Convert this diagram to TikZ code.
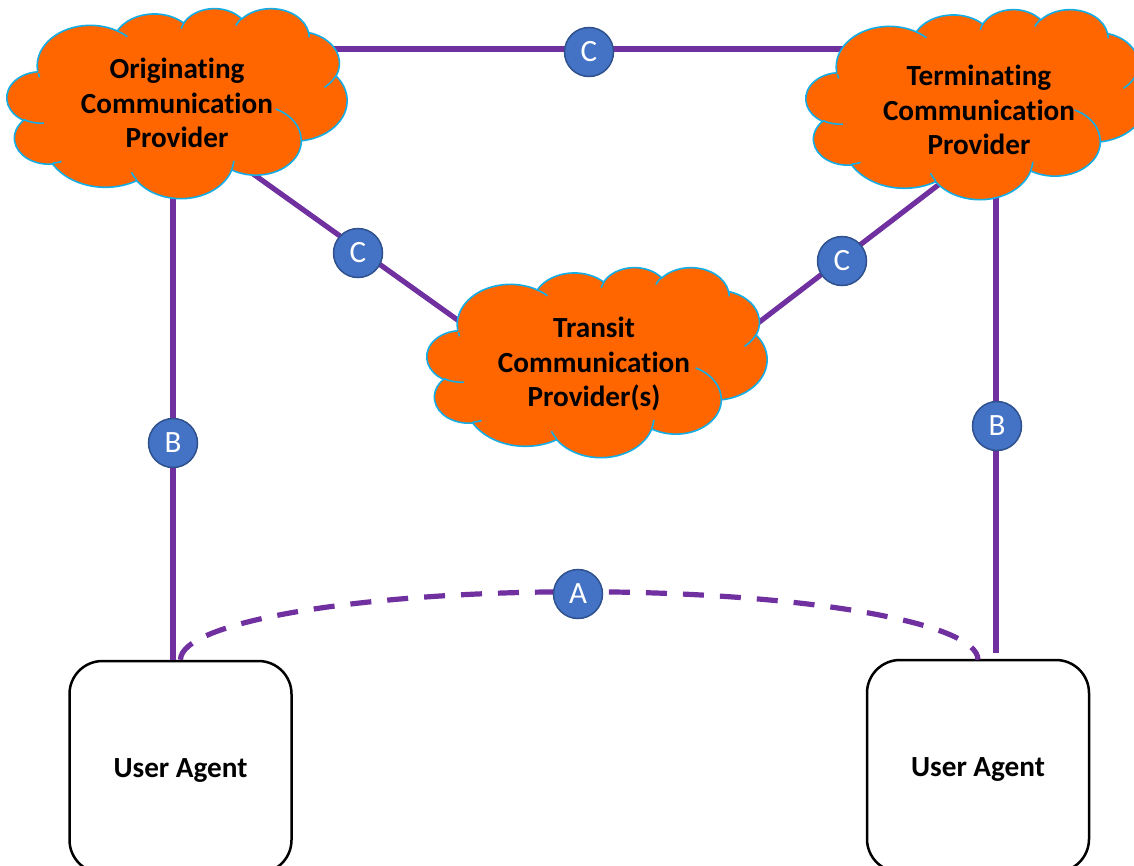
\documentclass[tikz,border=0pt]{standalone}
\usepackage{fontspec}
\setmainfont{Carlito}[Ligatures=NoCommon]

\definecolor{linkpurple}{HTML}{7030A0}
\definecolor{cloudfill}{HTML}{FF6600}
\definecolor{cloudline}{HTML}{14ADE6}
\definecolor{badgefill}{HTML}{4472C4}
\definecolor{badgeline}{HTML}{2F528F}

% Cloud outline on a 432 x 432 grid; arc angles are visual angles,
% converted here to the parametric angles TikZ expects.
\makeatletter
\def\cloud@acc{}
\def\cloud@arc#1#2#3#4{%
  \pgfmathsetmacro\cloud@ta{atan2(#1*sin(#3),#2*cos(#3))}%
  \pgfmathsetmacro\cloud@tb{atan2(#1*sin(#3+#4),#2*cos(#3+#4))}%
  \pgfmathsetmacro\cloud@td{mod(\cloud@tb-\cloud@ta+720,360)}%
  \xdef\cloud@acc{\cloud@acc arc[x radius=#1,y radius=#2,start angle=\cloud@ta,delta angle=\cloud@td]}%
}
\def\cloud@move#1#2{\xdef\cloud@acc{\cloud@acc (#1,#2)}}
% outer puffs
\cloud@arc{67.53}{91.90}{-190.48748}{123.78053}
\cloud@arc{53.33}{72.67}{-144.10238}{89.94523}
\cloud@arc{43.65}{59.45}{-145.80792}{99.72302}
\cloud@arc{48.57}{65.95}{-130.98607}{117.24173}
\cloud@arc{53.33}{72.73}{-78.70888}{109.02692}
\cloud@arc{67.75}{92.20}{-46.26725}{130.269}
\cloud@arc{57.85}{78.67}{0.62502}{114.03333}
\cloud@arc{67.52}{92.15}{22.4516}{115.17255}
\cloud@arc{77.20}{105.43}{66.24263}{75.71102}
\cloud@arc{43.60}{59.18}{-274.94208}{146.73557}
\cloud@arc{43.45}{59.45}{-246.8285}{152.51885}
\global\let\cloudoutline\cloud@acc
% inner creases
\gdef\cloud@acc{}
\cloud@move{46.93}{261.77}\cloud@arc{43.45}{59.45}{86.742}{26.4295}
\cloud@move{69.28}{348.99}\cloud@arc{43.60}{59.18}{73.61047}{11.44747}
\cloud@move{164.78}{390.90}\cloud@arc{67.52}{92.15}{137.62415}{14.0811}
\cloud@move{288.27}{347.51}\cloud@arc{67.52}{92.15}{6.45327}{15.99835}
\cloud@move{341.29}{229.54}\cloud@arc{57.85}{78.67}{-70.29235}{70.91737}
\cloud@move{417.98}{153.54}\cloud@arc{53.33}{72.73}{30.31803}{27.7515}
\cloud@move{383.24}{54.26}\cloud@arc{48.57}{65.95}{-13.74433}{14.8589}
\cloud@move{290.78}{39.52}\cloud@arc{48.57}{65.95}{-149.18145}{18.19537}
\cloud@move{221.41}{47.20}\cloud@arc{43.65}{59.45}{-163.49427}{17.68635}
\cloud@move{140.00}{51.92}\cloud@arc{67.53}{91.90}{-66.70695}{12.31935}
\cloud@move{41.27}{157.89}\cloud@arc{67.53}{91.90}{162.03673}{7.8663}
\global\let\cloudcreases\cloud@acc
\makeatother

% \drawcloud{left}{top}{width}{height}
\newcommand\drawcloud[4]{%
  \pgfmathsetmacro\cloudsx{#3/432}%
  \pgfmathsetmacro\cloudsy{#4/432}%
  \begin{scope}[shift={(#1,#2)}, x=\cloudsx pt, y=-\cloudsy pt]
    \filldraw[cloudbody] (39.00,143.70) \cloudoutline -- cycle;
    \draw[cloudcrease] \cloudcreases;
  \end{scope}}

\tikzset{
  link/.style={draw=linkpurple, line width=5.2pt},
  dashlink/.style={link, dash pattern=on 21pt off 16pt},
  badge/.style={circle, fill=badgefill, draw=badgeline, line width=1.5pt,
    minimum size=49pt, inner sep=0pt, text=white, font=\fontsize{31}{31}\selectfont},
  cloudbody/.style={fill=cloudfill, draw=cloudline, line width=1.6pt},
  cloudcrease/.style={draw=cloudline, line width=1.6pt},
  cloudtext/.style={align=center, font=\bfseries\fontsize{29.2}{34.5}\selectfont},
  agent/.style={draw=black, line width=2.5pt, rounded corners=33pt,
    minimum width=222pt, minimum height=212pt, text height=26pt,
    font=\bfseries\fontsize{29.2}{34}\selectfont},
}

\begin{document}
\begin{tikzpicture}[x=1pt, y=-1pt]
\useasboundingbox (0,0) rectangle (1134,865);
\clip (0,0) rectangle (1134,865);

% attachment points of the links
\coordinate (ocp-e) at (300,49);
\coordinate (tcp-w) at (870,49);
\coordinate (ocp-se) at (235,161);
\coordinate (trcp-nw) at (480,336);
\coordinate (trcp-ne) at (745,333);
\coordinate (tcp-sw) at (950,176);
\coordinate (ocp-s) at (173,190);
\coordinate (tcp-s) at (996,190);
\coordinate (tcp-s2) at (996,653);

% user agents
\node[agent] (ua1) at (180.5,767) {User Agent};
\node[agent] (ua2) at (978,766) {User Agent};

% links
\draw[link] (ocp-e) -- (tcp-w);
\draw[link] (ocp-se) -- (trcp-nw);
\draw[link] (trcp-ne) -- (tcp-sw);
\draw[link] (ocp-s) -- (ocp-s |- ua1.north);
\draw[link] (tcp-s) -- (tcp-s2);
\draw[dashlink] (ua1.north) arc[start angle=180, end angle=360, x radius=398.75, y radius=68];

% providers
\drawcloud{7}{8}{340}{190}
\drawcloud{806}{9}{340}{190}
\drawcloud{427}{267}{340}{190}
\node[cloudtext] (ocp) at (177,103) {Originating\\Communication\\Provider};
\node[cloudtext] (tcp) at (979,110) {Terminating\\Communication\\Provider};
\node[cloudtext] (trcp) at (594,364) {Transit\\Communication\\Provider(s)};

% reference point markers
\node[badge] (c1) at (589,52) {C};
\node[badge] (c2) at (358,253) {C};
\node[badge] (c3) at (842,261) {C};
\node[badge] (b1) at (173,443) {B};
\node[badge] (b2) at (997,426) {B};
\node[badge] (a1) at (578,594) {A};
\end{tikzpicture}
\end{document}
